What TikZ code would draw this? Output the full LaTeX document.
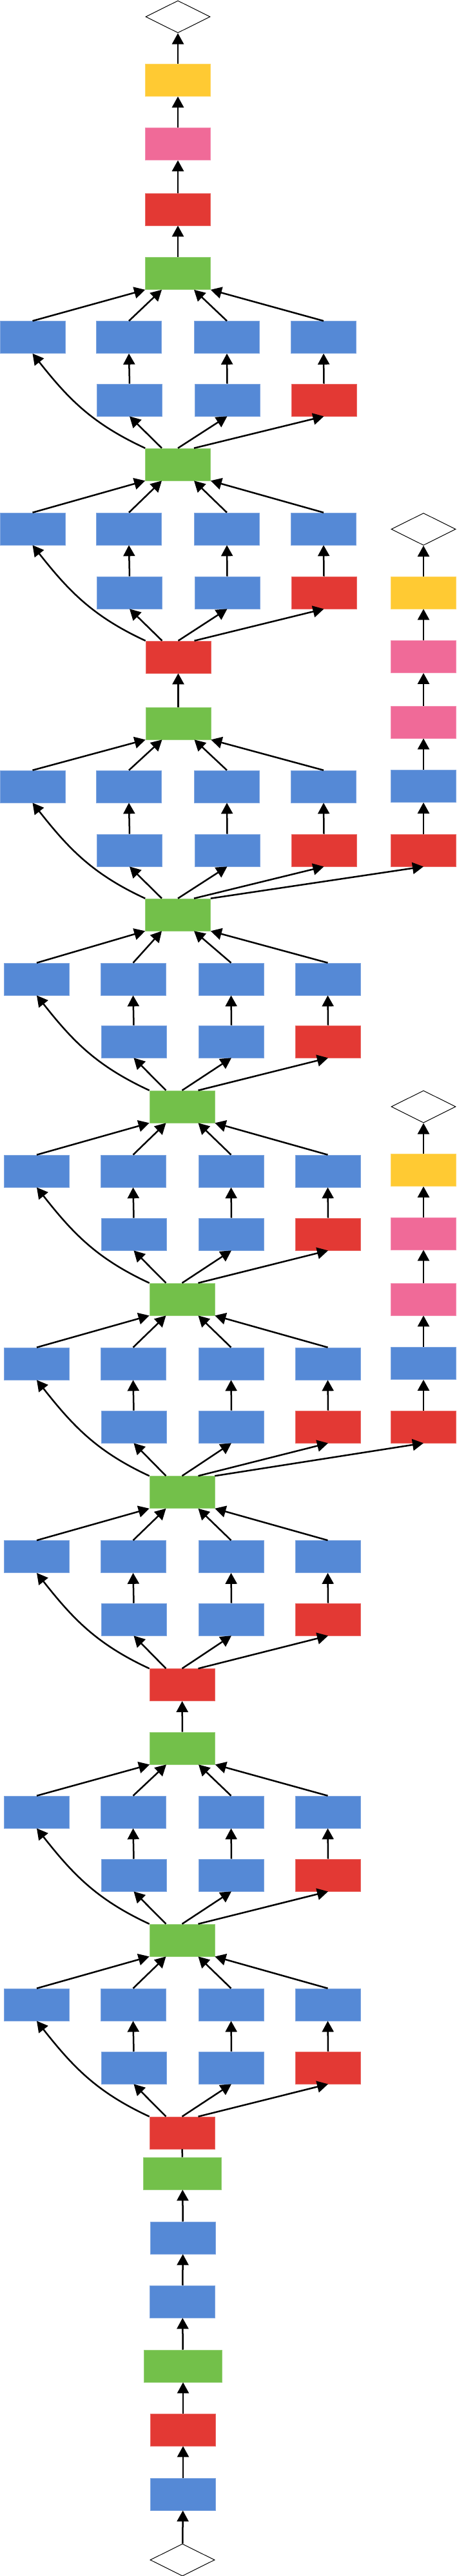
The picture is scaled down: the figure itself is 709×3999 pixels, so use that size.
\documentclass[tikz,border=0pt]{standalone}
\usetikzlibrary{arrows.meta,shapes.geometric}
\definecolor{cblue}{RGB}{85,137,214}
\definecolor{cred}{RGB}{227,57,52}
\definecolor{cgreen}{RGB}{115,192,74}
\definecolor{cyellow}{RGB}{255,202,51}
\definecolor{cpink}{RGB}{240,106,152}
\begin{document}
\begin{tikzpicture}[x=1pt,y=-1pt,
  box/.style={rectangle,minimum width=101pt,minimum height=50pt,inner sep=0pt,line width=0.6pt},
  bl/.style={box,fill=cblue,draw=cblue!75!white},
  rd/.style={box,fill=cred,draw=cred!75!white},
  gr/.style={box,fill=cgreen,draw=cgreen!75!white},
  grw/.style={gr,minimum width=121pt},
  ye/.style={box,fill=cyellow,draw=cyellow!75!white},
  pk/.style={box,fill=cpink,draw=cpink!75!white},
  dia/.style={diamond,aspect=2,minimum width=100pt,minimum height=50pt,inner sep=0pt,draw=black,line width=1pt,fill=white},
  arr/.style={line width=2.5pt,-{Triangle[length=17pt,width=18pt]}},
  ln/.style={line width=2.5pt}]
\useasboundingbox (0,0) rectangle (709,3999);

% main column
\node[dia] (D1) at (276,26) {};
\node[ye] (Y1) at (276,124.5) {};
\node[pk] (P1) at (276,223.5) {};
\node[rd] (R1) at (276,325) {};
\node[gr] (G1) at (276,424.5) {};
\node[gr] (G2) at (276,721) {};
\node[rd] (R2) at (276.5,1020) {};
\node[gr] (G3) at (276.5,1123) {};
\node[gr] (G4) at (276,1420) {};
\node[gr] (G5) at (282.5,1718) {};
\node[gr] (G6) at (282.5,2017) {};
\node[gr] (G7) at (282.5,2316.5) {};
\node[rd] (R3) at (282.5,2615.5) {};
\node[gr] (G8) at (283,2714) {};
\node[gr] (G9) at (282.5,3012) {};
\node[rd] (R4) at (282.5,3311) {};
\node[grw] (G10) at (283,3374) {};
\node[bl] (BB1) at (284,3474) {};
\node[bl] (BB2) at (283,3573) {};
\node[grw] (G11) at (284,3673) {};
\node[rd] (R5) at (284,3772) {};
\node[bl] (BB3) at (284,3872) {};
\node[dia] (DB) at (283,3974) {};

% right column 1
\node[dia] (RD1) at (657,821.5) {};
\node[ye] (RY1) at (657,920) {};
\node[pk] (RP1) at (657,1019.5) {};
\node[pk] (RP2) at (657,1121) {};
\node[bl] (RB1) at (657,1220.5) {};
\node[rd] (RR1) at (657,1320) {};
% right column 2
\node[dia] (RD2) at (657,1718) {};
\node[ye] (RY2) at (657,1816.5) {};
\node[pk] (RP3) at (657,1915) {};
\node[pk] (RP4) at (657,2017) {};
\node[bl] (RB2) at (657,2116.5) {};
\node[rd] (RR2) at (657,2215) {};

% chains
\draw[arr] (Y1) -- (D1);
\draw[arr] (P1) -- (Y1);
\draw[arr] (R1) -- (P1);
\draw[arr] (G1) -- (R1);
\draw[arr] (G3) -- (R2);
\draw[arr] (G8) -- (R3);
\draw[ln] (G10.north) -- (R4.south);
\draw[arr] (BB1) -- (G10);
\draw[arr] (BB2) -- (BB1);
\draw[arr] (G11) -- (BB2);
\draw[arr] (R5) -- (G11);
\draw[arr] (BB3) -- (R5);
\draw[arr] (DB) -- (BB3);

\draw[arr] (G4.north east) -- (RR1.south);
\draw[arr] (RR1) -- (RB1);
\draw[arr] (RB1) -- (RP2);
\draw[arr] (RP2) -- (RP1);
\draw[arr] (RP1) -- (RY1);
\draw[arr] (RY1) -- (RD1);

\draw[arr] (G7.north east) -- (RR2.south);
\draw[arr] (RR2) -- (RB2);
\draw[arr] (RB2) -- (RP4);
\draw[arr] (RP4) -- (RP3);
\draw[arr] (RP3) -- (RY2);
\draw[arr] (RY2) -- (RD2);

% blocks
\foreach \n/\base/\top/\ya/\yb/\dx in {1/G2/G1/523.5/621/0, 2/R2/G2/821/920/0, 3/G4/G3/1221/1320/0,
  4/G5/G4/1520/1617/6.5, 5/G6/G5/1818/1916/6.5, 6/G7/G6/2117/2215/6.5,
  7/R3/G7/2416.5/2514/6.5, 8/G9/G8/2813/2911/6.5, 9/R4/G9/3112/3210/6.5}{
  \node[bl] (a\n-0) at (50.5+\dx,\ya) {};
  \node[bl] (a\n-1) at (200+\dx,\ya) {};
  \node[bl] (a\n-2) at (352+\dx,\ya) {};
  \node[bl] (a\n-3) at (502+\dx,\ya) {};
  \node[bl] (b\n-1) at (201+\dx,\yb) {};
  \node[bl] (b\n-2) at (352.5+\dx,\yb) {};
  \node[rd] (b\n-3) at (502.5+\dx,\yb) {};
  \draw[arr] (\base.north west) .. controls +(-82,-38) and +(56,71) .. (a\n-0.south);
  \draw[arr] ([xshift=-25pt]\base.north) -- (b\n-1.south);
  \draw[arr] (\base.north) -- (b\n-2.south);
  \draw[arr] ([xshift=25pt]\base.north) -- (b\n-3.south);
  \draw[arr] (b\n-1.north) -- (a\n-1.south);
  \draw[arr] (b\n-2.north) -- (a\n-2.south);
  \draw[arr] (b\n-3.north) -- (a\n-3.south);
  \draw[arr] (a\n-0.north) -- (\top.south west);
  \draw[arr] (a\n-1.north) -- ([xshift=-25pt]\top.south);
  \draw[arr] (a\n-2.north) -- ([xshift=25pt]\top.south);
  \draw[arr] (a\n-3.north) -- (\top.south east);
}
\end{tikzpicture}
\end{document}
